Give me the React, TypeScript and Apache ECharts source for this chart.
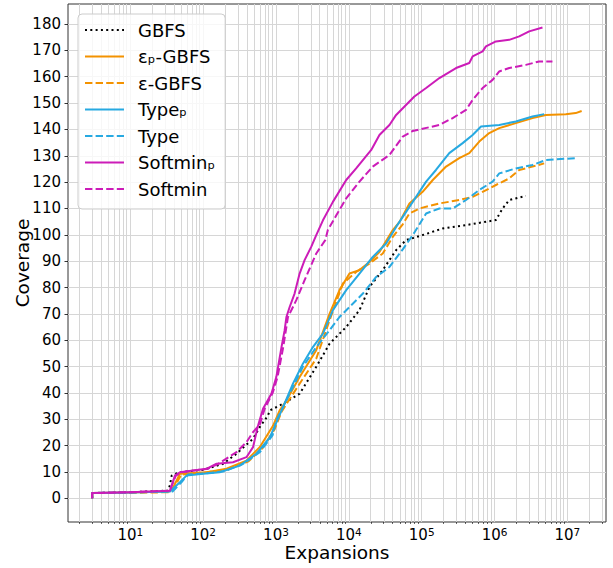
import React, { useEffect, useRef } from "react";
import * as echarts from "echarts";

const FONT = "DejaVu Sans";

// Expansions (x) and coverage (y) for each configuration
const GBFS_X = [3, 3, 10, 33, 35, 37, 47.5, 100, 188, 287, 484, 598, 776, 820, 1250, 2110, 3570, 5450, 9200, 14000, 19200, 29200, 44600, 61100, 103000, 194000, 406000, 1045000, 1290000, 1590000, 2690000];
const GBFS_Y = [0, 2, 2.3, 2.9, 5, 8.6, 9.9, 10.8, 13.1, 16.9, 22.6, 27.0, 31.4, 33.3, 35.9, 39.7, 49.9, 58.7, 65.0, 71.4, 80.2, 86.6, 94.2, 98.0, 99.9, 102.4, 103.7, 105.6, 110.0, 113.2, 114.8];

const EPSP_X = [3, 3, 10, 35, 39, 48, 112, 209, 393, 598, 910, 1120, 1390, 2110, 3570, 5450, 7450, 10200, 14000, 19200, 26300, 40100, 49700, 67900, 103000, 142000, 216000, 328000, 450000, 617000, 845000, 1160000, 1960000, 3320000, 5060000, 9510000, 13000000, 15700000];
const EPSP_Y = [0, 2, 2.2, 2.7, 4.2, 9.3, 9.9, 11.2, 14.3, 19.4, 27.5, 33.3, 37.1, 46.0, 56.2, 70.1, 79.0, 85.3, 86.6, 89.7, 93.5, 101.8, 104.9, 111.9, 116.3, 120.8, 125.9, 129.1, 131.0, 135.4, 138.6, 140.5, 142.4, 144.3, 145.5, 145.8, 146.2, 147.0];

const EPS_X = [3, 3, 10, 35, 40, 50, 120, 220, 420, 650, 950, 1200, 2110, 3570, 5450, 8280, 12600, 19200, 29200, 40100, 55000, 67900, 93100, 175000, 328000, 500000, 686000, 1045000, 1590000, 2180000, 3320000, 4800000];
const EPS_Y = [0, 2, 2.1, 2.3, 4, 9, 10, 11, 14, 19, 26, 33, 43.5, 53, 67.6, 81.5, 85.9, 89.1, 92.9, 99.2, 104, 108.1, 110.0, 111.9, 113.2, 114.4, 116.3, 118.9, 121.4, 124.6, 125.9, 127.1];

const TYPEP_X = [3, 3, 10, 35, 48, 59, 100, 169, 318, 538, 820, 1250, 1710, 2340, 3210, 4410, 6040, 9200, 14000, 21300, 32500, 44600, 61100, 83800, 115000, 157000, 239000, 365000, 500000, 652000, 1160000, 1960000, 3320000, 4800000];
const TYPEP_Y = [0, 2, 2.2, 2.6, 6.1, 8.6, 9.3, 9.9, 12.4, 16.9, 23, 34.6, 43.5, 51.1, 57.4, 62.5, 71.4, 79.0, 85.3, 91.6, 96.7, 103.0, 108.7, 114.4, 120.2, 124.6, 131.0, 134.8, 137.9, 141.1, 141.7, 143.0, 144.9, 145.8];

const TYPE_X = [3, 3, 10, 38, 50, 62, 110, 200, 350, 600, 900, 1010, 1540, 2340, 3570, 5450, 7450, 10200, 15600, 23700, 36100, 55000, 76000, 115000, 175000, 266000, 406000, 617000, 940000, 1160000, 1960000, 3320000, 5060000, 13000000];
const TYPE_Y = [0, 2, 2.2, 2.6, 6, 9, 9.5, 10.3, 13, 17.5, 24, 29.5, 39.7, 49.9, 57.4, 63.8, 68.8, 72.6, 77.7, 84.0, 87.8, 94.5, 100, 108.1, 110.0, 110.0, 113.2, 117.0, 120.2, 123.3, 125.2, 126.5, 128.4, 129.1];

const SOFTP_X = [3, 3, 10, 35, 41, 48, 111, 153, 257, 393, 484, 560, 664, 865, 1010, 1190, 1315, 1390, 1540, 1800, 2110, 2470, 3055, 3570, 4410, 6040, 9200, 12600, 20300, 26300, 36100, 44600, 79400, 115000, 175000, 296000, 450000, 500000, 686000, 762000, 1045000, 1590000, 2180000, 2990000, 4550000];
const SOFTP_Y = [0, 2, 2.3, 2.9, 8.6, 9.9, 11.2, 13.1, 13.7, 15.6, 19.4, 27, 34, 39.7, 46.0, 57.4, 63.8, 68.8, 72.6, 77.7, 85.3, 90.4, 95.5, 99.9, 105.5, 112.5, 120.8, 125.2, 132.2, 137.9, 141.7, 145.5, 152.5, 155.7, 159.5, 163.3, 165.2, 167.7, 169.6, 171.5, 173.4, 174.0, 175.3, 177.2, 178.7];

const SOFT_X = [3, 3, 10, 35, 42, 50, 115, 160, 287, 393, 484, 600, 700, 900, 1050, 1250, 1460, 1900, 2470, 3570, 4750, 5150, 6760, 9200, 14000, 21300, 36100, 55000, 75300, 175000, 266000, 406000, 500000, 686000, 940000, 1160000, 1590000, 2690000, 4090000, 6240000];
const SOFT_Y = [0, 2, 2.3, 2.9, 8.5, 9.9, 11.2, 13, 17.5, 21.3, 25.1, 28, 34, 40, 46, 57, 68.8, 75.2, 82.8, 92.9, 98, 101.8, 107.5, 113.8, 120.2, 125.9, 130.3, 137.3, 139.4, 141.7, 144.3, 147.4, 151.2, 155.7, 158.8, 162.0, 163.3, 164.5, 165.8, 165.8];

const SERIES_NAMES = ["GBFS", "εₚ-GBFS", "ε-GBFS", "Typeₚ", "Type", "Softminₚ", "Softmin"];
const X_TICK_EXPONENTS = [1, 2, 3, 4, 5, 6, 7];
const Y_TICKS = [0, 10, 20, 30, 40, 50, 60, 70, 80, 90, 100, 110, 120, 130, 140, 150, 160, 170, 180];

const X_MIN = 0.145;
const X_MAX = 7.53;

export default function App() {
  const ref = useRef<HTMLDivElement>(null);

  useEffect(() => {
    if (!ref.current) return;
    const chart = echarts.init(ref.current, undefined, { renderer: "svg" });

    const ORANGE = "#f39200";
    const CYAN = "#27a9e1";
    const MAGENTA = "#cc1cb8";
    const DASH = [7.4, 3.2];
    const DOT = [2, 3.3];

    const defs: [string, number[], number[], string, any][] = [
      [SERIES_NAMES[0], GBFS_X, GBFS_Y, "#000000", DOT],
      [SERIES_NAMES[1], EPSP_X, EPSP_Y, ORANGE, "solid"],
      [SERIES_NAMES[2], EPS_X, EPS_Y, ORANGE, DASH],
      [SERIES_NAMES[3], TYPEP_X, TYPEP_Y, CYAN, "solid"],
      [SERIES_NAMES[4], TYPE_X, TYPE_Y, CYAN, DASH],
      [SERIES_NAMES[5], SOFTP_X, SOFTP_Y, MAGENTA, "solid"],
      [SERIES_NAMES[6], SOFT_X, SOFT_Y, MAGENTA, DASH],
    ];

    // log-scale grid positions
    const majorX: number[] = [];
    const minorX: number[] = [];
    for (let k = 0; k <= 7; k++) {
      for (let m = 1; m <= 9; m++) {
        const v = Math.log10(m * Math.pow(10, k));
        if (v < X_MIN || v > X_MAX) continue;
        if (m === 1) majorX.push(v);
        else minorX.push(v);
      }
    }
    const allX = [...majorX, ...minorX];

    const dataSeries = defs.map(([name, xs, ys, color, type]) => ({
      type: "line",
      name,
      data: xs.map((x, i) => [Math.log10(x), ys[i]]),
      symbol: "none",
      showSymbol: false,
      smooth: false,
      clip: true,
      silent: true,
      z: 3,
      itemStyle: { color },
      lineStyle: { color, width: 2, type, cap: "butt", join: "round" },
    }));

    const gridSeries = {
      type: "line",
      name: "__grid",
      data: [],
      silent: true,
      z: 1,
      markLine: {
        silent: true,
        z: 1,
        symbol: ["none", "none"],
        label: { show: false },
        emphasis: { disabled: true },
        lineStyle: { color: "#d6d6d6", width: 1, type: "solid" },
        data: [
          ...allX.map((v) => ({ xAxis: v })),
          ...Y_TICKS.map((v) => ({ yAxis: v })),
        ],
      },
    };

    chart.setOption({
      animation: false,
      backgroundColor: "#ffffff",
      textStyle: { fontFamily: FONT },
      grid: {
        left: 68,
        top: 4,
        width: 538,
        height: 518,
        show: true,
        borderColor: "#333",
        borderWidth: 1,
        backgroundColor: "transparent",
        containLabel: false,
        outerBoundsMode: "none",
      },
      legend: {
        data: SERIES_NAMES,
        orient: "vertical",
        left: 78,
        top: 14,
        padding: [6, 10, 10, 6],
        itemGap: 6.5,
        itemWidth: 39,
        itemHeight: 14,
        backgroundColor: "rgba(255,255,255,0.8)",
        borderColor: "#cccccc",
        borderWidth: 1,
        borderRadius: 4,
        selectedMode: false,
        itemStyle: { opacity: 0 },
        textStyle: {
          fontFamily: FONT,
          fontSize: 18,
          color: "#000",
          lineHeight: 20,
          padding: [0, 0, 0, 9],
        },
      },
      xAxis: [
        {
          type: "value",
          min: X_MIN,
          max: X_MAX,
          name: "Expansions",
          nameLocation: "middle",
          nameGap: 21,
          nameMoveOverlap: false,
          nameTextStyle: { fontFamily: FONT, fontSize: 18.5, color: "#000" },
          axisLine: { show: false },
          splitLine: { show: false },
          axisTick: {
            show: true,
            customValues: X_TICK_EXPONENTS,
            length: 3.5,
            lineStyle: { color: "#000", width: 0.8 },
          },
          axisLabel: {
            show: true,
            customValues: X_TICK_EXPONENTS,
            margin: 4,
            formatter: (v: number) => `{b|10}{s|${Math.round(v)}}`,
            rich: {
              b: { fontFamily: FONT, fontSize: 15, color: "#000", lineHeight: 16, verticalAlign: "bottom" },
              s: { fontFamily: FONT, fontSize: 10.5, color: "#000", lineHeight: 6, verticalAlign: "top" },
            },
          },
        },
        {
          type: "value",
          min: X_MIN,
          max: X_MAX,
          gridIndex: 0,
          position: "bottom",
          axisLine: { show: false },
          splitLine: { show: false },
          axisLabel: { show: false },
          axisTick: {
            show: true,
            customValues: minorX,
            length: 2,
            lineStyle: { color: "#000", width: 0.6 },
          },
        },
      ],
      yAxis: {
        type: "value",
        min: -9,
        max: 187.6,
        name: "Coverage",
        nameLocation: "middle",
        nameRotate: 90,
        nameGap: 36,
        nameMoveOverlap: false,
        nameTextStyle: { fontFamily: FONT, fontSize: 18.5, color: "#000" },
        axisLine: { show: false },
        splitLine: { show: false },
        axisTick: {
          show: true,
          customValues: Y_TICKS,
          length: 3.5,
          lineStyle: { color: "#000", width: 0.8 },
        },
        axisLabel: {
          show: true,
          customValues: Y_TICKS,
          margin: 7,
          fontFamily: FONT,
          fontSize: 15,
          color: "#000",
        },
      },
      series: [gridSeries, ...dataSeries],
    });

    return () => chart.dispose();
  }, []);

  return (
    <div
      ref={ref}
      style={{ position: "fixed", left: 0, top: 0, width: 613, height: 568 }}
    />
  );
}
